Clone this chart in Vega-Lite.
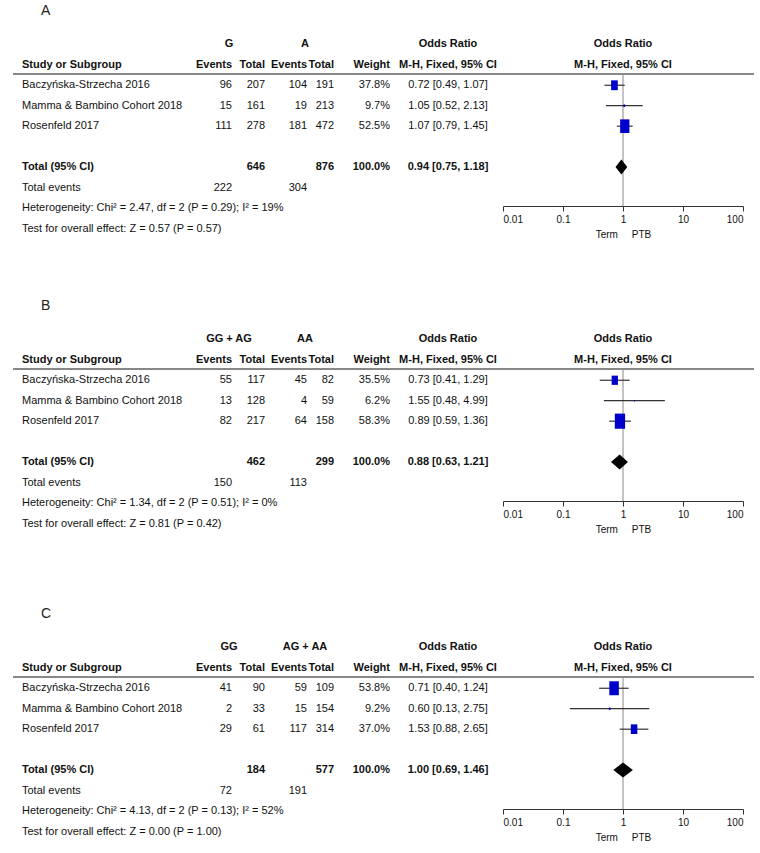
{
"$schema": "https://vega.github.io/schema/vega-lite/v6.json",
"padding": {"left": 12, "top": 4, "right": 0, "bottom": 0},
"background": "white",
"bounds": "flush",
"spacing": 163,
"config": {"view": {"stroke": null}},
"datasets": {
"t": [
{"p":"A","r":1,"c":1,"t":"G"},{"p":"A","r":1,"c":4,"t":"A"},{"p":"A","r":1,"c":8,"t":"Odds Ratio"},{"p":"A","r":1,"c":9,"t":"Odds Ratio"},
{"p":"A","r":2,"c":0,"t":"Study or Subgroup"},{"p":"A","r":2,"c":2,"t":"Events"},{"p":"A","r":2,"c":3,"t":"Total"},{"p":"A","r":2,"c":5,"t":"Events"},{"p":"A","r":2,"c":6,"t":"Total"},{"p":"A","r":2,"c":7,"t":"Weight"},{"p":"A","r":2,"c":8,"t":"M-H, Fixed, 95% CI"},{"p":"A","r":2,"c":9,"t":"M-H, Fixed, 95% CI"},
{"p":"A","r":3,"c":0,"t":"Baczyńska-Strzecha 2016"},{"p":"A","r":3,"c":2,"t":"96"},{"p":"A","r":3,"c":3,"t":"207"},{"p":"A","r":3,"c":5,"t":"104"},{"p":"A","r":3,"c":6,"t":"191"},{"p":"A","r":3,"c":7,"t":"37.8%"},{"p":"A","r":3,"c":8,"t":"0.72 [0.49, 1.07]"},
{"p":"A","r":4,"c":0,"t":"Mamma & Bambino Cohort 2018"},{"p":"A","r":4,"c":2,"t":"15"},{"p":"A","r":4,"c":3,"t":"161"},{"p":"A","r":4,"c":5,"t":"19"},{"p":"A","r":4,"c":6,"t":"213"},{"p":"A","r":4,"c":7,"t":"9.7%"},{"p":"A","r":4,"c":8,"t":"1.05 [0.52, 2.13]"},
{"p":"A","r":5,"c":0,"t":"Rosenfeld 2017"},{"p":"A","r":5,"c":2,"t":"111"},{"p":"A","r":5,"c":3,"t":"278"},{"p":"A","r":5,"c":5,"t":"181"},{"p":"A","r":5,"c":6,"t":"472"},{"p":"A","r":5,"c":7,"t":"52.5%"},{"p":"A","r":5,"c":8,"t":"1.07 [0.79, 1.45]"},
{"p":"A","r":7,"c":0,"t":"Total (95% CI)"},{"p":"A","r":7,"c":3,"t":"646"},{"p":"A","r":7,"c":6,"t":"876"},{"p":"A","r":7,"c":7,"t":"100.0%"},{"p":"A","r":7,"c":8,"t":"0.94 [0.75, 1.18]"},
{"p":"A","r":8,"c":0,"t":"Total events"},{"p":"A","r":8,"c":2,"t":"222"},{"p":"A","r":8,"c":5,"t":"304"},
{"p":"A","r":9,"c":0,"t":"Heterogeneity: Chi² = 2.47, df = 2 (P = 0.29); I² = 19%"},
{"p":"A","r":10,"c":0,"t":"Test for overall effect: Z = 0.57 (P = 0.57)"},

{"p":"B","r":1,"c":1,"t":"GG + AG"},{"p":"B","r":1,"c":4,"t":"AA"},{"p":"B","r":1,"c":8,"t":"Odds Ratio"},{"p":"B","r":1,"c":9,"t":"Odds Ratio"},
{"p":"B","r":2,"c":0,"t":"Study or Subgroup"},{"p":"B","r":2,"c":2,"t":"Events"},{"p":"B","r":2,"c":3,"t":"Total"},{"p":"B","r":2,"c":5,"t":"Events"},{"p":"B","r":2,"c":6,"t":"Total"},{"p":"B","r":2,"c":7,"t":"Weight"},{"p":"B","r":2,"c":8,"t":"M-H, Fixed, 95% CI"},{"p":"B","r":2,"c":9,"t":"M-H, Fixed, 95% CI"},
{"p":"B","r":3,"c":0,"t":"Baczyńska-Strzecha 2016"},{"p":"B","r":3,"c":2,"t":"55"},{"p":"B","r":3,"c":3,"t":"117"},{"p":"B","r":3,"c":5,"t":"45"},{"p":"B","r":3,"c":6,"t":"82"},{"p":"B","r":3,"c":7,"t":"35.5%"},{"p":"B","r":3,"c":8,"t":"0.73 [0.41, 1.29]"},
{"p":"B","r":4,"c":0,"t":"Mamma & Bambino Cohort 2018"},{"p":"B","r":4,"c":2,"t":"13"},{"p":"B","r":4,"c":3,"t":"128"},{"p":"B","r":4,"c":5,"t":"4"},{"p":"B","r":4,"c":6,"t":"59"},{"p":"B","r":4,"c":7,"t":"6.2%"},{"p":"B","r":4,"c":8,"t":"1.55 [0.48, 4.99]"},
{"p":"B","r":5,"c":0,"t":"Rosenfeld 2017"},{"p":"B","r":5,"c":2,"t":"82"},{"p":"B","r":5,"c":3,"t":"217"},{"p":"B","r":5,"c":5,"t":"64"},{"p":"B","r":5,"c":6,"t":"158"},{"p":"B","r":5,"c":7,"t":"58.3%"},{"p":"B","r":5,"c":8,"t":"0.89 [0.59, 1.36]"},
{"p":"B","r":7,"c":0,"t":"Total (95% CI)"},{"p":"B","r":7,"c":3,"t":"462"},{"p":"B","r":7,"c":6,"t":"299"},{"p":"B","r":7,"c":7,"t":"100.0%"},{"p":"B","r":7,"c":8,"t":"0.88 [0.63, 1.21]"},
{"p":"B","r":8,"c":0,"t":"Total events"},{"p":"B","r":8,"c":2,"t":"150"},{"p":"B","r":8,"c":5,"t":"113"},
{"p":"B","r":9,"c":0,"t":"Heterogeneity: Chi² = 1.34, df = 2 (P = 0.51); I² = 0%"},
{"p":"B","r":10,"c":0,"t":"Test for overall effect: Z = 0.81 (P = 0.42)"},

{"p":"C","r":1,"c":1,"t":"GG"},{"p":"C","r":1,"c":4,"t":"AG + AA"},{"p":"C","r":1,"c":8,"t":"Odds Ratio"},{"p":"C","r":1,"c":9,"t":"Odds Ratio"},
{"p":"C","r":2,"c":0,"t":"Study or Subgroup"},{"p":"C","r":2,"c":2,"t":"Events"},{"p":"C","r":2,"c":3,"t":"Total"},{"p":"C","r":2,"c":5,"t":"Events"},{"p":"C","r":2,"c":6,"t":"Total"},{"p":"C","r":2,"c":7,"t":"Weight"},{"p":"C","r":2,"c":8,"t":"M-H, Fixed, 95% CI"},{"p":"C","r":2,"c":9,"t":"M-H, Fixed, 95% CI"},
{"p":"C","r":3,"c":0,"t":"Baczyńska-Strzecha 2016"},{"p":"C","r":3,"c":2,"t":"41"},{"p":"C","r":3,"c":3,"t":"90"},{"p":"C","r":3,"c":5,"t":"59"},{"p":"C","r":3,"c":6,"t":"109"},{"p":"C","r":3,"c":7,"t":"53.8%"},{"p":"C","r":3,"c":8,"t":"0.71 [0.40, 1.24]"},
{"p":"C","r":4,"c":0,"t":"Mamma & Bambino Cohort 2018"},{"p":"C","r":4,"c":2,"t":"2"},{"p":"C","r":4,"c":3,"t":"33"},{"p":"C","r":4,"c":5,"t":"15"},{"p":"C","r":4,"c":6,"t":"154"},{"p":"C","r":4,"c":7,"t":"9.2%"},{"p":"C","r":4,"c":8,"t":"0.60 [0.13, 2.75]"},
{"p":"C","r":5,"c":0,"t":"Rosenfeld 2017"},{"p":"C","r":5,"c":2,"t":"29"},{"p":"C","r":5,"c":3,"t":"61"},{"p":"C","r":5,"c":5,"t":"117"},{"p":"C","r":5,"c":6,"t":"314"},{"p":"C","r":5,"c":7,"t":"37.0%"},{"p":"C","r":5,"c":8,"t":"1.53 [0.88, 2.65]"},
{"p":"C","r":7,"c":0,"t":"Total (95% CI)"},{"p":"C","r":7,"c":3,"t":"184"},{"p":"C","r":7,"c":6,"t":"577"},{"p":"C","r":7,"c":7,"t":"100.0%"},{"p":"C","r":7,"c":8,"t":"1.00 [0.69, 1.46]"},
{"p":"C","r":8,"c":0,"t":"Total events"},{"p":"C","r":8,"c":2,"t":"72"},{"p":"C","r":8,"c":5,"t":"191"},
{"p":"C","r":9,"c":0,"t":"Heterogeneity: Chi² = 4.13, df = 2 (P = 0.13); I² = 52%"},
{"p":"C","r":10,"c":0,"t":"Test for overall effect: Z = 0.00 (P = 1.00)"}
],
"f": [
{"p":"A","r":3,"est":0.72,"lo":0.49,"hi":1.07,"w":37.8},
{"p":"A","r":4,"est":1.05,"lo":0.52,"hi":2.13,"w":9.7},
{"p":"A","r":5,"est":1.07,"lo":0.79,"hi":1.45,"w":52.5},
{"p":"A","r":7,"est":0.94,"lo":0.75,"hi":1.18},
{"p":"B","r":3,"est":0.73,"lo":0.41,"hi":1.29,"w":35.5},
{"p":"B","r":4,"est":1.55,"lo":0.48,"hi":4.99,"w":6.2},
{"p":"B","r":5,"est":0.89,"lo":0.59,"hi":1.36,"w":58.3},
{"p":"B","r":7,"est":0.88,"lo":0.63,"hi":1.21},
{"p":"C","r":3,"est":0.71,"lo":0.40,"hi":1.24,"w":53.8},
{"p":"C","r":4,"est":0.60,"lo":0.13,"hi":2.75,"w":9.2},
{"p":"C","r":5,"est":1.53,"lo":0.88,"hi":2.65,"w":37.0},
{"p":"C","r":7,"est":1.00,"lo":0.69,"hi":1.46}
]
},
"vconcat": [
{
"width": 741, "height": 132,
"title": {"text": "A", "anchor": "start", "frame": "group", "dx": 28, "offset": 20, "font": "Liberation Sans, Arial, sans-serif", "fontSize": 14, "fontWeight": "normal", "color": "#222"},
"resolve": {"scale": {"x": "independent"}},
"layer": [
{"data": {"name": "t"}, "transform": [{"filter": "datum.p === 'A'"}],
 "mark": {"type": "text", "font": "Liberation Sans, Arial, sans-serif", "fontSize": 11, "baseline": "middle", "color": "#111",
   "align": {"expr": "datum.c === 0 ? 'left' : ((datum.c === 1 || datum.c === 4 || datum.c >= 8) ? 'center' : 'right')"},
   "fontWeight": {"expr": "(datum.r <= 2 || datum.r === 7) ? 'bold' : 'normal'"}},
 "encoding": {
   "x": {"field": "c", "type": "quantitative", "scale": {"domain": [0,1,2,3,4,5,6,7,8,9], "range": [9,216,219,252,292,294,321,377,435,610], "zero": false, "nice": false}, "axis": null},
   "y": {"field": "r", "type": "quantitative", "scale": {"domain": [2.45, 8.9], "reverse": true, "zero": false, "nice": false}, "axis": null},
   "text": {"field": "t"}}},
{"data": {"values": [{}]}, "mark": {"type": "rule", "color": "#111", "strokeWidth": 1}, "encoding": {"y": {"datum": 2.45, "type": "quantitative"}}},
{"data": {"values": [{}]}, "mark": {"type": "rule", "color": "#888", "strokeWidth": 1},
 "encoding": {"x": {"datum": 1, "type": "quantitative", "scale": {"type": "log", "domain": [0.01, 100], "range": [490, 730]}, "axis": null}}},
{"data": {"name": "f"}, "transform": [{"filter": "datum.p === 'A' && datum.r < 7"}], "mark": {"type": "rule", "color": "#333", "strokeWidth": 1.2},
 "encoding": {"x": {"field": "lo", "type": "quantitative", "scale": {"type": "log", "domain": [0.01, 100], "range": [490, 730]},
   "axis": {"values": [0.01, 0.1, 1, 10, 100], "format": "~g", "grid": false, "tickSize": 5, "tickColor": "#333", "domainColor": "#333", "labelFont": "Liberation Sans, Arial, sans-serif", "labelFontSize": 10, "labelColor": "#111", "labelPadding": 3, "title": "Term\u00a0\u00a0\u00a0\u00a0\u00a0PTB", "titleFont": "Liberation Sans, Arial, sans-serif", "titleFontSize": 10, "titleFontWeight": "normal", "titleColor": "#111", "titlePadding": 5}},
   "x2": {"field": "hi"}, "y": {"field": "r", "type": "quantitative"}}},
{"data": {"name": "f"}, "transform": [{"filter": "datum.p === 'A' && datum.r < 7"}], "mark": {"type": "point", "filled": true, "shape": "M-0.68,-1H0.68V1H-0.68Z", "color": "#0000cc", "opacity": 1, "strokeWidth": 0},
 "encoding": {"x": {"field": "est", "type": "quantitative", "scale": {"type": "log", "domain": [0.01, 100], "range": [490, 730]}, "axis": null}, "y": {"field": "r", "type": "quantitative"},
   "size": {"field": "w", "type": "quantitative", "scale": {"type": "pow", "exponent": 2, "domain": [0, 100], "range": [0, 676]}, "legend": null}}},
{"data": {"name": "f"}, "transform": [{"filter": "datum.p === 'A' && datum.r === 7"}, {"fold": ["lo", "est", "hi"], "as": ["k", "v"]}],
 "mark": {"type": "area", "color": "#000", "opacity": 1, "yOffset": {"expr": "datum.k === 'est' ? -7.5 : 0"}, "y2Offset": {"expr": "datum.k === 'est' ? 7.5 : 0"}},
 "encoding": {"x": {"field": "v", "type": "quantitative", "scale": {"type": "log", "domain": [0.01, 100], "range": [490, 730]}, "axis": null}, "y": {"field": "r", "type": "quantitative"}, "y2": {"field": "r"}}}
]
},
{
"bounds": "flush",
"spacing": 176,
"vconcat": [
{
"width": 741, "height": 132,
"title": {"text": "B", "anchor": "start", "frame": "group", "dx": 28, "offset": 20, "font": "Liberation Sans, Arial, sans-serif", "fontSize": 14, "fontWeight": "normal", "color": "#222"},
"resolve": {"scale": {"x": "independent"}},
"layer": [
{"data": {"name": "t"}, "transform": [{"filter": "datum.p === 'B'"}],
 "mark": {"type": "text", "font": "Liberation Sans, Arial, sans-serif", "fontSize": 11, "baseline": "middle", "color": "#111",
   "align": {"expr": "datum.c === 0 ? 'left' : ((datum.c === 1 || datum.c === 4 || datum.c >= 8) ? 'center' : 'right')"},
   "fontWeight": {"expr": "(datum.r <= 2 || datum.r === 7) ? 'bold' : 'normal'"}},
 "encoding": {
   "x": {"field": "c", "type": "quantitative", "scale": {"domain": [0,1,2,3,4,5,6,7,8,9], "range": [9,216,219,252,292,294,321,377,435,610], "zero": false, "nice": false}, "axis": null},
   "y": {"field": "r", "type": "quantitative", "scale": {"domain": [2.45, 8.9], "reverse": true, "zero": false, "nice": false}, "axis": null},
   "text": {"field": "t"}}},
{"data": {"values": [{}]}, "mark": {"type": "rule", "color": "#111", "strokeWidth": 1}, "encoding": {"y": {"datum": 2.45, "type": "quantitative"}}},
{"data": {"values": [{}]}, "mark": {"type": "rule", "color": "#888", "strokeWidth": 1},
 "encoding": {"x": {"datum": 1, "type": "quantitative", "scale": {"type": "log", "domain": [0.01, 100], "range": [490, 730]}, "axis": null}}},
{"data": {"name": "f"}, "transform": [{"filter": "datum.p === 'B' && datum.r < 7"}], "mark": {"type": "rule", "color": "#333", "strokeWidth": 1.2},
 "encoding": {"x": {"field": "lo", "type": "quantitative", "scale": {"type": "log", "domain": [0.01, 100], "range": [490, 730]},
   "axis": {"values": [0.01, 0.1, 1, 10, 100], "format": "~g", "grid": false, "tickSize": 5, "tickColor": "#333", "domainColor": "#333", "labelFont": "Liberation Sans, Arial, sans-serif", "labelFontSize": 10, "labelColor": "#111", "labelPadding": 3, "title": "Term\u00a0\u00a0\u00a0\u00a0\u00a0PTB", "titleFont": "Liberation Sans, Arial, sans-serif", "titleFontSize": 10, "titleFontWeight": "normal", "titleColor": "#111", "titlePadding": 5}},
   "x2": {"field": "hi"}, "y": {"field": "r", "type": "quantitative"}}},
{"data": {"name": "f"}, "transform": [{"filter": "datum.p === 'B' && datum.r < 7"}], "mark": {"type": "point", "filled": true, "shape": "M-0.68,-1H0.68V1H-0.68Z", "color": "#0000cc", "opacity": 1, "strokeWidth": 0},
 "encoding": {"x": {"field": "est", "type": "quantitative", "scale": {"type": "log", "domain": [0.01, 100], "range": [490, 730]}, "axis": null}, "y": {"field": "r", "type": "quantitative"},
   "size": {"field": "w", "type": "quantitative", "scale": {"type": "pow", "exponent": 2, "domain": [0, 100], "range": [0, 676]}, "legend": null}}},
{"data": {"name": "f"}, "transform": [{"filter": "datum.p === 'B' && datum.r === 7"}, {"fold": ["lo", "est", "hi"], "as": ["k", "v"]}],
 "mark": {"type": "area", "color": "#000", "opacity": 1, "yOffset": {"expr": "datum.k === 'est' ? -7.5 : 0"}, "y2Offset": {"expr": "datum.k === 'est' ? 7.5 : 0"}},
 "encoding": {"x": {"field": "v", "type": "quantitative", "scale": {"type": "log", "domain": [0.01, 100], "range": [490, 730]}, "axis": null}, "y": {"field": "r", "type": "quantitative"}, "y2": {"field": "r"}}}
]
},
{
"width": 741, "height": 132,
"title": {"text": "C", "anchor": "start", "frame": "group", "dx": 28, "offset": 20, "font": "Liberation Sans, Arial, sans-serif", "fontSize": 14, "fontWeight": "normal", "color": "#222"},
"resolve": {"scale": {"x": "independent"}},
"layer": [
{"data": {"name": "t"}, "transform": [{"filter": "datum.p === 'C'"}],
 "mark": {"type": "text", "font": "Liberation Sans, Arial, sans-serif", "fontSize": 11, "baseline": "middle", "color": "#111",
   "align": {"expr": "datum.c === 0 ? 'left' : ((datum.c === 1 || datum.c === 4 || datum.c >= 8) ? 'center' : 'right')"},
   "fontWeight": {"expr": "(datum.r <= 2 || datum.r === 7) ? 'bold' : 'normal'"}},
 "encoding": {
   "x": {"field": "c", "type": "quantitative", "scale": {"domain": [0,1,2,3,4,5,6,7,8,9], "range": [9,216,219,252,292,294,321,377,435,610], "zero": false, "nice": false}, "axis": null},
   "y": {"field": "r", "type": "quantitative", "scale": {"domain": [2.45, 8.9], "reverse": true, "zero": false, "nice": false}, "axis": null},
   "text": {"field": "t"}}},
{"data": {"values": [{}]}, "mark": {"type": "rule", "color": "#111", "strokeWidth": 1}, "encoding": {"y": {"datum": 2.45, "type": "quantitative"}}},
{"data": {"values": [{}]}, "mark": {"type": "rule", "color": "#888", "strokeWidth": 1},
 "encoding": {"x": {"datum": 1, "type": "quantitative", "scale": {"type": "log", "domain": [0.01, 100], "range": [490, 730]}, "axis": null}}},
{"data": {"name": "f"}, "transform": [{"filter": "datum.p === 'C' && datum.r < 7"}], "mark": {"type": "rule", "color": "#333", "strokeWidth": 1.2},
 "encoding": {"x": {"field": "lo", "type": "quantitative", "scale": {"type": "log", "domain": [0.01, 100], "range": [490, 730]},
   "axis": {"values": [0.01, 0.1, 1, 10, 100], "format": "~g", "grid": false, "tickSize": 5, "tickColor": "#333", "domainColor": "#333", "labelFont": "Liberation Sans, Arial, sans-serif", "labelFontSize": 10, "labelColor": "#111", "labelPadding": 3, "title": "Term\u00a0\u00a0\u00a0\u00a0\u00a0PTB", "titleFont": "Liberation Sans, Arial, sans-serif", "titleFontSize": 10, "titleFontWeight": "normal", "titleColor": "#111", "titlePadding": 5}},
   "x2": {"field": "hi"}, "y": {"field": "r", "type": "quantitative"}}},
{"data": {"name": "f"}, "transform": [{"filter": "datum.p === 'C' && datum.r < 7"}], "mark": {"type": "point", "filled": true, "shape": "M-0.68,-1H0.68V1H-0.68Z", "color": "#0000cc", "opacity": 1, "strokeWidth": 0},
 "encoding": {"x": {"field": "est", "type": "quantitative", "scale": {"type": "log", "domain": [0.01, 100], "range": [490, 730]}, "axis": null}, "y": {"field": "r", "type": "quantitative"},
   "size": {"field": "w", "type": "quantitative", "scale": {"type": "pow", "exponent": 2, "domain": [0, 100], "range": [0, 676]}, "legend": null}}},
{"data": {"name": "f"}, "transform": [{"filter": "datum.p === 'C' && datum.r === 7"}, {"fold": ["lo", "est", "hi"], "as": ["k", "v"]}],
 "mark": {"type": "area", "color": "#000", "opacity": 1, "yOffset": {"expr": "datum.k === 'est' ? -7.5 : 0"}, "y2Offset": {"expr": "datum.k === 'est' ? 7.5 : 0"}},
 "encoding": {"x": {"field": "v", "type": "quantitative", "scale": {"type": "log", "domain": [0.01, 100], "range": [490, 730]}, "axis": null}, "y": {"field": "r", "type": "quantitative"}, "y2": {"field": "r"}}}
]
}
]
}
]
}
